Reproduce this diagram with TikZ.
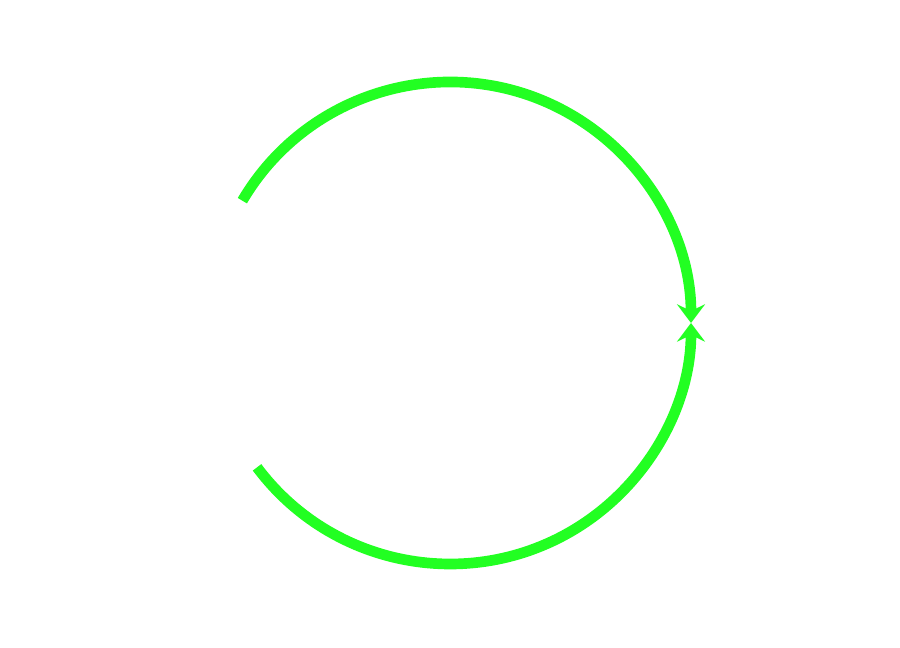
\documentclass[tikz,border=0pt]{standalone}
\usetikzlibrary{arrows.meta}
\definecolor{arcgreen}{RGB}{34,255,34}
\begin{document}
\begin{tikzpicture}[x=0.75pt,y=0.75pt,
  arcline/.style={draw=arcgreen,line width=8pt,
    -{Stealth[length=14pt,width=21pt,inset=5pt]}}]
\useasboundingbox (0,0) rectangle (900,648);
\coordinate (c) at (450,325);
\draw[arcline] ([shift={(149.5:241)}]c) arc[start angle=149.5,end angle=0,radius=241];
\draw[arcline] ([shift={(216.8:241)}]c) arc[start angle=216.8,end angle=360,radius=241];
\end{tikzpicture}
\end{document}
